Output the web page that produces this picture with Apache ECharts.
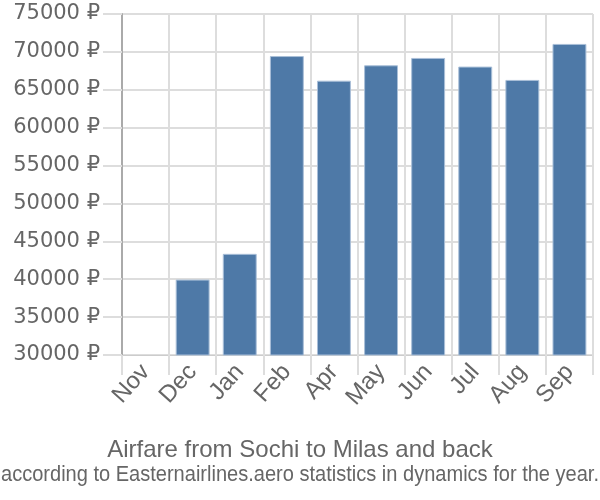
<!DOCTYPE html>
<html><head><meta charset="utf-8">
<script src="https://cdn.jsdelivr.net/npm/echarts@6/dist/echarts.min.js"></script>
<style>html,body{margin:0;padding:0;background:#fff}#c{width:600px;height:500px}</style>
</head><body><div id="c"></div>
<script>
const categories = ["Nov","Dec","Jan","Feb","Apr","May","Jun","Jul","Aug","Sep"];
const prices = [null, 39950, 43350, 69450, 66200, 68230, 69200, 68060, 66300, 71050];
const yTicks = {min: 30000, max: 75000, interval: 5000};
const titleText = "Airfare from Sochi to Milas and back";
const subtitleText = "according to Easternairlines.aero statistics in dynamics for the year.";

const subFont = '22px "Liberation Sans", Arial, sans-serif';
const ctx = document.createElement('canvas').getContext('2d');
ctx.font = subFont;
const subScale = Math.min(1, 598 / ctx.measureText(subtitleText).width);

const chart = echarts.init(document.getElementById('c'), null, {renderer: 'canvas'});
chart.setOption({
  animation: false,
  backgroundColor: '#fff',
  title: [
    {text: titleText, left: 'center', top: 433, textStyle: {fontFamily: 'Liberation Sans, Arial, sans-serif', fontSize: 24, fontWeight: 'normal', color: '#666'}}
  ],
  graphic: [{
    type: 'text', x: 300, y: 475, scaleX: subScale, originX: 0,
    style: {text: subtitleText, font: subFont, fill: '#666', align: 'center', verticalAlign: 'middle'}
  }],
  grid: {left: 122, right: 7, top: 14, bottom: 145, containLabel: false},
  xAxis: {
    type: 'category', data: categories, boundaryGap: true,
    axisLine: {show: true, lineStyle: {color: '#ccc', width: 1}},
    axisTick: {show: true, alignWithLabel: false, length: 20, lineStyle: {color: '#ddd', width: 2}},
    splitLine: {show: true, interval: 0, lineStyle: {color: '#ddd', width: 2}},
    axisLabel: {rotate: 48, interval: 0, margin: 13, fontSize: 24, color: '#666', fontFamily: 'Liberation Sans, Arial, sans-serif'}
  },
  yAxis: {
    type: 'value', min: yTicks.min, max: yTicks.max, interval: yTicks.interval,
    axisLine: {show: true, lineStyle: {color: '#aaa', width: 2}},
    axisTick: {show: true, length: 19, lineStyle: {color: '#ddd', width: 2}},
    splitLine: {show: true, lineStyle: {color: '#ddd', width: 2}},
    axisLabel: {formatter: v => v + ' ₽', margin: 22, fontSize: 21, color: '#666', fontFamily: 'DejaVu Sans, sans-serif'}
  },
  series: [{
    type: 'bar', data: prices, barCategoryGap: '28%',
    itemStyle: {color: '#4e79a7', borderColor: '#a9bfd8', borderWidth: 1}
  }]
});
</script></body></html>
